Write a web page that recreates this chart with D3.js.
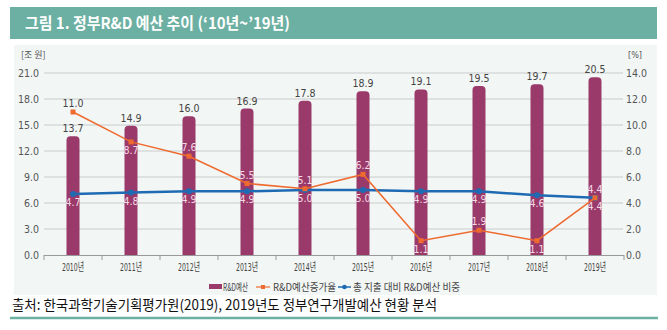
<!DOCTYPE html>
<html>
<head>
<meta charset="utf-8">
<script src="https://cdn.jsdelivr.net/npm/d3@7"></script>
<style>
  body { margin: 0; background: #fff; }
  svg { display: block; }
</style>
</head>
<body>
<div id="chart"></div>
<script>
// data
const years = ['2010년', '2011년', '2012년', '2013년', '2014년', '2015년', '2016년', '2017년', '2018년', '2019년'];
const budget = [13.7, 14.9, 16.0, 16.9, 17.8, 18.9, 19.1, 19.5, 19.7, 20.5];
const growth = [11.0, 8.7, 7.6, 5.5, 5.1, 6.2, 1.1, 1.9, 1.1, 4.4];
const share = [4.7, 4.8, 4.9, 4.9, 5.0, 5.0, 4.9, 4.9, 4.6, 4.4];
const leftTicks = [0, 3, 6, 9, 12, 15, 18, 21];
const rightTicks = [0, 2, 4, 6, 8, 10, 12, 14];

// label placement (above / below the point)
const growthSide = ['up', 'down', 'up', 'up', 'up', 'up', 'down', 'up', 'down', 'down'];
const shareSide = ['down', 'down', 'down', 'down', 'down', 'down', 'down', 'down', 'down', 'up'];

const W = 667, H = 330;
const narrow = '"Liberation Sans Narrow", "DejaVu Sans Condensed", "Noto Sans CJK KR", sans-serif';
const kr = '"Noto Sans CJK KR", "Noto Sans", sans-serif';

const cBar = '#9a3a6a', cOrange = '#ee6a2e', cBlue = '#1f6bb3', cTeal = '#6bb0a2';
const cLight = '#f6dbe7', cText = '#444';

let svg = d3.select('#chart').append('svg')
    .attr('width', W)
    .attr('height', H);

// title bar
svg.append('rect')
    .attr('x', 10).attr('y', 7)
    .attr('width', 647).attr('height', 32)
    .attr('fill', cTeal);
svg.append('text')
    .attr('x', 25).attr('y', 29)
    .attr('fill', '#fff')
    .style('font-family', kr)
    .style('font-size', '16px')
    .style('font-weight', 'bold')
    .attr('textLength', 265)
    .attr('lengthAdjust', 'spacingAndGlyphs')
    .text("그림 1. 정부R&D 예산 추이 (‘10년~’19년)");

// panel
svg.append('rect')
    .attr('x', 14).attr('y', 45)
    .attr('width', 643).attr('height', 250)
    .attr('fill', '#f2f6f5');

let x = d3.scaleBand()
    .domain(years)
    .range([44, 624]);

let yL = d3.scaleLinear().domain([0, 21]).range([255, 73]);
let yR = d3.scaleLinear().domain([0, 14]).range([255, 73]);

// grid
svg.append('g').selectAll('line')
    .data(leftTicks.slice(1))
    .join('line')
    .attr('x1', 44).attr('x2', 623)
    .attr('y1', d => yL(d)).attr('y2', d => yL(d))
    .attr('stroke', '#c9cccb')
    .attr('stroke-width', 1);

// left axis labels
svg.append('g').selectAll('text')
    .data(leftTicks)
    .join('text')
    .attr('x', 39)
    .attr('y', d => yL(d) + 3.5)
    .attr('text-anchor', 'end')
    .attr('fill', '#555')
    .style('font-family', narrow)
    .style('font-size', '10.5px')
    .text(d => d.toFixed(1));

svg.append('text')
    .attr('x', 21).attr('y', 58)
    .attr('fill', '#555')
    .style('font-family', kr)
    .style('font-size', '9px')
    .text('[조 원]');

// right axis labels
svg.append('g').selectAll('text')
    .data(rightTicks)
    .join('text')
    .attr('x', 626)
    .attr('y', d => yR(d) + 3.5)
    .attr('fill', '#555')
    .style('font-family', narrow)
    .style('font-size', '10.5px')
    .text(d => d.toFixed(1));

svg.append('text')
    .attr('x', 628).attr('y', 58)
    .attr('fill', '#555')
    .style('font-family', narrow)
    .style('font-size', '9px')
    .text('[%]');

// bars with rounded tops
let bw = 13;
function barPath(d, i) {
    let cx = x(years[i]) + x.bandwidth() / 2;
    let x0 = cx - bw / 2, x1 = cx + bw / 2;
    let top = yL(d), bot = yL(0), r = 4;
    return `M${x0},${bot}V${top + r}Q${x0},${top} ${x0 + r},${top}H${x1 - r}Q${x1},${top} ${x1},${top + r}V${bot}Z`;
}
svg.append('g').selectAll('path')
    .data(budget)
    .join('path')
    .attr('d', barPath)
    .attr('fill', cBar);

svg.append('g').selectAll('text')
    .data(budget)
    .join('text')
    .attr('x', (d, i) => x(years[i]) + x.bandwidth() / 2)
    .attr('y', d => yL(d) - 4)
    .attr('text-anchor', 'middle')
    .attr('fill', cText)
    .style('font-family', narrow)
    .style('font-size', '10.5px')
    .text(d => d.toFixed(1));

// x axis
svg.append('line')
    .attr('x1', 44).attr('x2', 624)
    .attr('y1', 255.5).attr('y2', 255.5)
    .attr('stroke', '#999');
svg.append('g').selectAll('line')
    .data(years.concat(['end']))
    .join('line')
    .attr('x1', (d, i) => 44 + i * x.step())
    .attr('x2', (d, i) => 44 + i * x.step())
    .attr('y1', 255).attr('y2', 260)
    .attr('stroke', '#999');

svg.append('g').selectAll('text')
    .data(years)
    .join('text')
    .attr('x', d => x(d) + x.bandwidth() / 2)
    .attr('y', 271)
    .attr('text-anchor', 'middle')
    .attr('fill', cText)
    .style('font-family', narrow)
    .style('font-size', '11px')
    .attr('textLength', 22)
    .attr('lengthAdjust', 'spacingAndGlyphs')
    .text(d => d);

let cx = (d, i) => x(years[i]) + x.bandwidth() / 2;

// share line (blue)
let shareLine = d3.line().x(cx).y(d => yR(d));
svg.append('path')
    .datum(share)
    .attr('d', shareLine)
    .attr('fill', 'none')
    .attr('stroke', cBlue)
    .attr('stroke-width', 2.5);
svg.append('g').selectAll('circle')
    .data(share)
    .join('circle')
    .attr('cx', cx)
    .attr('cy', d => yR(d))
    .attr('r', 3)
    .attr('fill', cBlue);

// growth line (orange)
svg.append('path')
    .datum(growth)
    .attr('d', shareLine)
    .attr('fill', 'none')
    .attr('stroke', cOrange)
    .attr('stroke-width', 1.5);
svg.append('g').selectAll('rect')
    .data(growth)
    .join('rect')
    .attr('x', (d, i) => cx(d, i) - 2.5)
    .attr('y', d => yR(d) - 2.5)
    .attr('width', 5).attr('height', 5)
    .attr('fill', cOrange);

function pointLabels(vals, sides) {
    svg.append('g').selectAll('text')
        .data(vals)
        .join('text')
        .attr('x', cx)
        .attr('y', (d, i) => yR(d) + (sides[i] === 'up' ? -5 : 12))
        .attr('text-anchor', 'middle')
        .attr('fill', (d, i) => {
            let ly = yR(d) + (sides[i] === 'up' ? -9 : 7);
            return ly > yL(budget[i]) ? cLight : cText;
        })
        .style('font-family', narrow)
        .style('font-size', '10.5px')
        .text(d => d.toFixed(1));
}
pointLabels(growth, growthSide);
pointLabels(share, shareSide);

// legend
let lg = svg.append('g').attr('transform', 'translate(0,287)');
lg.append('rect').attr('x', 209).attr('y', -3).attr('width', 13).attr('height', 5).attr('fill', cBar);
lg.append('text').attr('x', 223).attr('y', 3.5).text('R&D예산');
lg.append('line').attr('x1', 256).attr('x2', 270).attr('y1', 0).attr('y2', 0).attr('stroke', cOrange).attr('stroke-width', 1.2);
lg.append('rect').attr('x', 261).attr('y', -2).attr('width', 4).attr('height', 4).attr('fill', cOrange);
lg.append('text').attr('x', 273).attr('y', 3.5).text('R&D예산증가율');
lg.append('line').attr('x1', 338).attr('x2', 351).attr('y1', 0).attr('y2', 0).attr('stroke', cBlue).attr('stroke-width', 1.5);
lg.append('circle').attr('cx', 344.5).attr('cy', 0).attr('r', 2.3).attr('fill', cBlue);
lg.append('text').attr('x', 353).attr('y', 3.5).text('총 지출 대비 R&D예산 비중');
lg.selectAll('text')
    .attr('fill', cText)
    .style('font-family', kr)
    .style('font-size', '10px');
lg.selectAll('text').nodes().forEach((n, i) => {
    let len = [25, 63, 107][i];
    d3.select(n).attr('textLength', len).attr('lengthAdjust', 'spacingAndGlyphs');
});

// source
svg.append('text')
    .attr('x', 12).attr('y', 310)
    .attr('fill', '#111')
    .style('font-family', kr)
    .style('font-size', '14px')
    .attr('textLength', 425)
    .attr('lengthAdjust', 'spacingAndGlyphs')
    .text('출처: 한국과학기술기획평가원(2019), 2019년도 정부연구개발예산 현황 분석');

svg.append('line')
    .attr('x1', 10).attr('x2', 658)
    .attr('y1', 318).attr('y2', 318)
    .attr('stroke', cTeal)
    .attr('stroke-width', 2.5);
</script>
</body>
</html>
